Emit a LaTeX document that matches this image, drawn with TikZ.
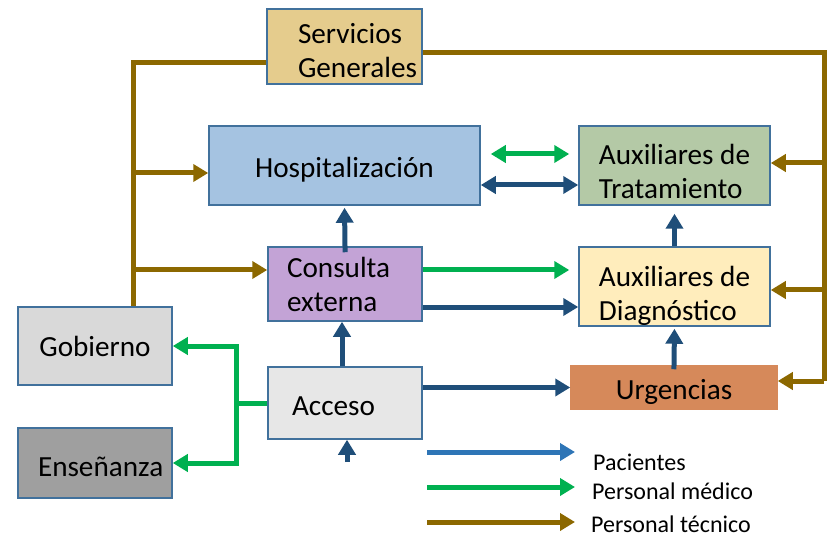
\documentclass[tikz,border=0pt]{standalone}
\usepackage{fontspec}
\setmainfont{Carlito}
\usepackage{xcolor}
\usetikzlibrary{arrows.meta}

\definecolor{boxline}{RGB}{65,113,156}
\definecolor{tecnico}{RGB}{140,104,0}
\definecolor{medico}{RGB}{0,176,80}
\definecolor{paciente}{RGB}{31,78,121}
\definecolor{legpac}{RGB}{46,117,182}
\definecolor{servfill}{RGB}{229,204,141}
\definecolor{hospfill}{RGB}{165,195,225}
\definecolor{tratfill}{RGB}{180,201,166}
\definecolor{consfill}{RGB}{195,163,214}
\definecolor{diagfill}{RGB}{255,237,188}
\definecolor{gobfill}{RGB}{217,217,217}
\definecolor{accfill}{RGB}{231,231,231}
\definecolor{urgfill}{RGB}{214,137,90}
\definecolor{ensfill}{RGB}{159,159,159}

\begin{document}
\begin{tikzpicture}[
    x=1pt, y=-1pt,
    area/.style={rectangle, draw=boxline, line width=1.5pt, inner sep=0pt,
        font=\fontsize{29.2}{34}\selectfont, text height=24pt},
    oneline/.style={area, text depth=0pt},
    twoline/.style={area, text depth=28pt, align=left},
    leg/.style={anchor=west, inner sep=0pt, font=\fontsize{24}{26}\selectfont},
    flow/.style={line width=5pt, -{Triangle[length=15pt,width=17pt]}},
    both/.style={line width=5pt, {Triangle[length=15pt,width=17pt]}-{Triangle[length=15pt,width=17pt]}},
    tec/.style={flow, draw=tecnico},
    med/.style={flow, draw=medico},
    pac/.style={flow, draw=paciente}
]
    \useasboundingbox (0,0) rectangle (827,537);

    % Areas
    \node[twoline, fill=servfill, minimum width=155, minimum height=75, inner xsep=31pt, text width=93pt, text depth=30pt] (serv) at (344.5,46.5) {Servicios\\ Generales};
    \node[oneline, fill=hospfill, minimum width=271, minimum height=79] (hosp) at (344.5,165.5) {Hospitalización};
    \node[twoline, fill=tratfill, minimum width=191, minimum height=79, text height=67pt, text depth=0pt] (trat) at (674.5,165.5) {Auxiliares de\\ Tratamiento};
    \node[twoline, fill=consfill, minimum width=154, minimum height=74, inner xsep=19pt, text width=116pt, text depth=37pt] (cons) at (345,284) {Consulta\\ externa};
    \node[twoline, fill=diagfill, minimum width=191, minimum height=79, text height=67pt, text depth=0pt] (diag) at (674.5,286.5) {Auxiliares de\\ Diagnóstico};
    \node[oneline, fill=gobfill, minimum width=154, minimum height=78, text height=20pt] (gob) at (95,346) {Gobierno};
    \node[oneline, fill=accfill, minimum width=154, minimum height=72, inner xsep=24pt, text width=106pt, align=left, text height=25pt] (acc) at (345,403) {Acceso};
    \node[oneline, fill=urgfill, draw=urgfill, minimum width=206, minimum height=43, text height=23pt] (urg) at (674,387.5) {Urgencias};
    \node[oneline, fill=ensfill, minimum width=154, minimum height=70, inner xsep=20pt, text width=114pt, align=left, text height=27pt] (ens) at (95,463) {Enseñanza};

    % Personal tecnico
    \coordinate (jl) at (133,63);
    \coordinate (jr) at (824,53);
    \draw[tecnico, line width=5pt] ([yshift=-16.5pt]serv.west) -- (jl) -- (jl |- gob.north);
    \draw[tec] (jl |- 0,173) -- ([yshift=-7.5pt]hosp.west);
    \draw[tec] (jl |- 0,270) -- ([yshift=14pt]cons.west);
    \draw[tecnico, line width=5pt] ([yshift=-6.5pt]serv.east) -- (jr) -- (jr |- 0,381);
    \draw[tec] (jr |- 0,163) -- ([yshift=2.5pt]trat.east);
    \draw[tec] (jr |- 0,290) -- ([yshift=-3.5pt]diag.east);
    \draw[tec] (jr |- 0,381) -- ([yshift=6.5pt]urg.east);

    % Personal medico
    \draw[both, draw=medico, shorten <=10pt, shorten >=9pt] ([yshift=11.5pt]hosp.east) -- ([yshift=11.5pt]trat.west);
    \draw[med, shorten >=9pt] ([yshift=14pt]cons.east) -- ([yshift=16.5pt]diag.west);
    \coordinate (jg) at (236,403);
    \draw[medico, line width=5pt] (acc.west) -- (jg);
    \draw[med] (jg) |- (gob.east);
    \draw[med] (jg) |- (ens.east);

    % Pacientes
    \draw[both, draw=paciente] ([yshift=-19.5pt]hosp.east) -- ([yshift=-19.5pt]trat.west);
    \draw[pac, shorten <=-6pt, shorten >=2pt] (cons.north) -- (hosp.south);
    \draw[pac] ([yshift=-23pt]cons.east) -- ([yshift=-20.5pt]diag.west);
    \draw[pac] ([xshift=-3pt]acc.north) -- ([xshift=-3pt]cons.south);
    \coordinate (ent) at (347,462);
    \draw[pac] (ent) -- (ent |- acc.south);
    \draw[pac] ([yshift=15.5pt]acc.east) -- (urg.west);
    \draw[pac, shorten <=-4pt, shorten >=2pt] (urg.north) -- (diag.south);
    \draw[pac, shorten >=8pt] (diag.north) -- (trat.south);

    % Leyenda
    \coordinate (l1) at (427,452);
    \coordinate (l2) at (427,487);
    \coordinate (l3) at (427,522);
    \draw[flow, draw=legpac] (l1) -- ++(148,0);
    \draw[med] (l2) -- ++(148,0);
    \draw[tec] (l3) -- ++(148,0);
    \node[leg] (lpac) at (593,462) {Pacientes};
    \node[leg] (lmed) at (592,491) {Personal médico};
    \node[leg] (ltec) at (591,524) {Personal técnico};
\end{tikzpicture}
\end{document}
